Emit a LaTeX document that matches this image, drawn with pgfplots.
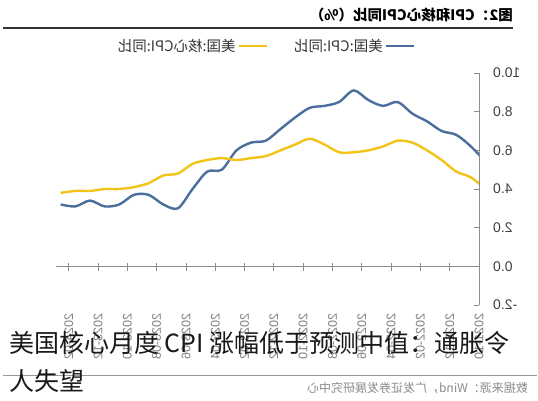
\documentclass[border=0pt]{standalone}
\usepackage{pgfplots}
\pgfplotsset{compat=1.18}
\usepackage{graphicx}
\usepackage{fontspec}
\setmainfont{Liberation Sans}
\newfontfamily\cjk{Noto Sans CJK SC}
\definecolor{cpiblue}{HTML}{4A6F9C}
\definecolor{coreyel}{HTML}{F2C318}
\definecolor{axgray}{HTML}{8C8C8C}
\newcommand{\R}[1]{\reflectbox{#1}}

\begin{document}
\begin{tikzpicture}[x=1pt,y=1pt]
\useasboundingbox (0,0) rectangle (538,400);
\fill[white] (0,0) rectangle (538,400);
\begin{axis}[
  at={(56pt,95pt)}, anchor=south west,
  scale only axis, width=423pt, height=232pt,
  xmin=0, xmax=28.87, ymin=-2, ymax=10,
  x dir=reverse,
  axis x line*=bottom, axis y line*=right,
  x axis line style={draw=none},
  y axis line style={draw=axgray, line width=0.9pt},
  xtick={0,2,...,28},
  xticklabels={\R{2021-10},\R{2021-12},\R{2022-02},\R{2022-04},\R{2022-06},\R{2022-08},\R{2022-10},\R{2022-12},\R{2023-02},\R{2023-04},\R{2023-06},\R{2023-08},\R{2023-10},\R{2023-12},\R{2024-02}},
  xtick style={draw=none},
  xticklabel style={rotate=90, anchor=east, font=\fontsize{12.5}{14}\selectfont, text=black!50, inner sep=0pt},
  xticklabel shift=8pt,
  ytick={-2,0,2,4,6,8,10},
  yticklabels={\R{-2.0},\R{0.0},\R{2.0},\R{4.0},\R{6.0},\R{8.0},\R{10.0}},
  ytick style={draw=axgray, line width=0.9pt},
  tick align=inside, major tick length=5pt,
  yticklabel style={anchor=west, font=\fontsize{14}{16}\selectfont, text=black!75, inner sep=0pt},
  yticklabel shift=14pt,
  clip=true,
  legend plot pos=right,
  reverse legend,
  legend columns=2,
  legend style={draw=none, fill=none, at={(axis description cs:0.4965,1.116)}, anchor=center,
    font=\cjk\fontsize{14.5}{16}\selectfont, text=black!80,
    nodes={inner xsep=1pt},
    /tikz/every odd column/.append style={column sep=1pt},
    /tikz/every even column/.append style={column sep=25pt}},
  legend image code/.code={\draw[#1] (0pt,0pt) -- (28pt,0pt);},
]
\draw[axgray, line width=0.9pt] (axis cs:0,0) -- (axis cs:28.87,0);
\pgfplotsinvokeforeach{0,2,...,28}{\draw[axgray, line width=0.9pt] ([yshift=3pt]axis cs:#1,0) -- ([yshift=-5pt]axis cs:#1,0);}
\addplot[cpiblue, line width=2.4pt, smooth, tension=0.5] coordinates {
(-0.45,5.4) (0.55,6.2) (1.55,6.8) (2.55,7.0) (3.55,7.5) (4.55,7.9) (5.55,8.5) (6.55,8.3)
(7.55,8.6) (8.55,9.1) (9.55,8.5) (10.55,8.3) (11.55,8.2) (12.55,7.7) (13.55,7.1) (14.55,6.5)
(15.55,6.4) (16.55,6.0) (17.55,5.0) (18.55,4.9) (19.55,4.0) (20.55,3.0) (21.55,3.2) (22.55,3.7)
(23.55,3.7) (24.55,3.2) (25.55,3.1) (26.55,3.4) (27.55,3.1) (28.55,3.2)};
\addlegendentry{\R{美国:CPI:同比}}
\addplot[coreyel, line width=2.4pt, smooth, tension=0.5] coordinates {
(-0.45,4.0) (0.55,4.6) (1.55,4.9) (2.55,5.5) (3.55,6.0) (4.55,6.4) (5.55,6.5) (6.55,6.2)
(7.55,6.0) (8.55,5.9) (9.55,5.9) (10.55,6.3) (11.55,6.6) (12.55,6.3) (13.55,6.0) (14.55,5.7)
(15.55,5.6) (16.55,5.5) (17.55,5.6) (18.55,5.5) (19.55,5.3) (20.55,4.8) (21.55,4.7) (22.55,4.3)
(23.55,4.1) (24.55,4.0) (25.55,4.0) (26.55,3.9) (27.55,3.9) (28.55,3.8)};
\addlegendentry{\R{美国:核心CPI:同比}}
\end{axis}
\draw[black!80, line width=1.2pt] (3,372) -- (513,372);
\node[anchor=east, inner sep=0pt] at (513,385) {\R{\cjk\bfseries\fontsize{14.5}{16}\selectfont 图2：CPI和核心CPI同比（\%）}};
\draw[black!40, line width=0.8pt] (3,25) -- (537,25);
\node[anchor=east, inner sep=0pt, text=black!45] at (528,12) {\R{\cjk\fontsize{12}{14}\selectfont 数据来源：Wind，广发证券发展研究中心}};
\node[anchor=west, inner sep=0pt, text=black!90] at (9,57) {\cjk\fontsize{25}{30}\selectfont 美国核心月度 CPI 涨幅低于预测中值：通胀令};
\node[anchor=west, inner sep=0pt, text=black!90] at (9,19) {\cjk\fontsize{25}{30}\selectfont 人失望};
\end{tikzpicture}
\end{document}
